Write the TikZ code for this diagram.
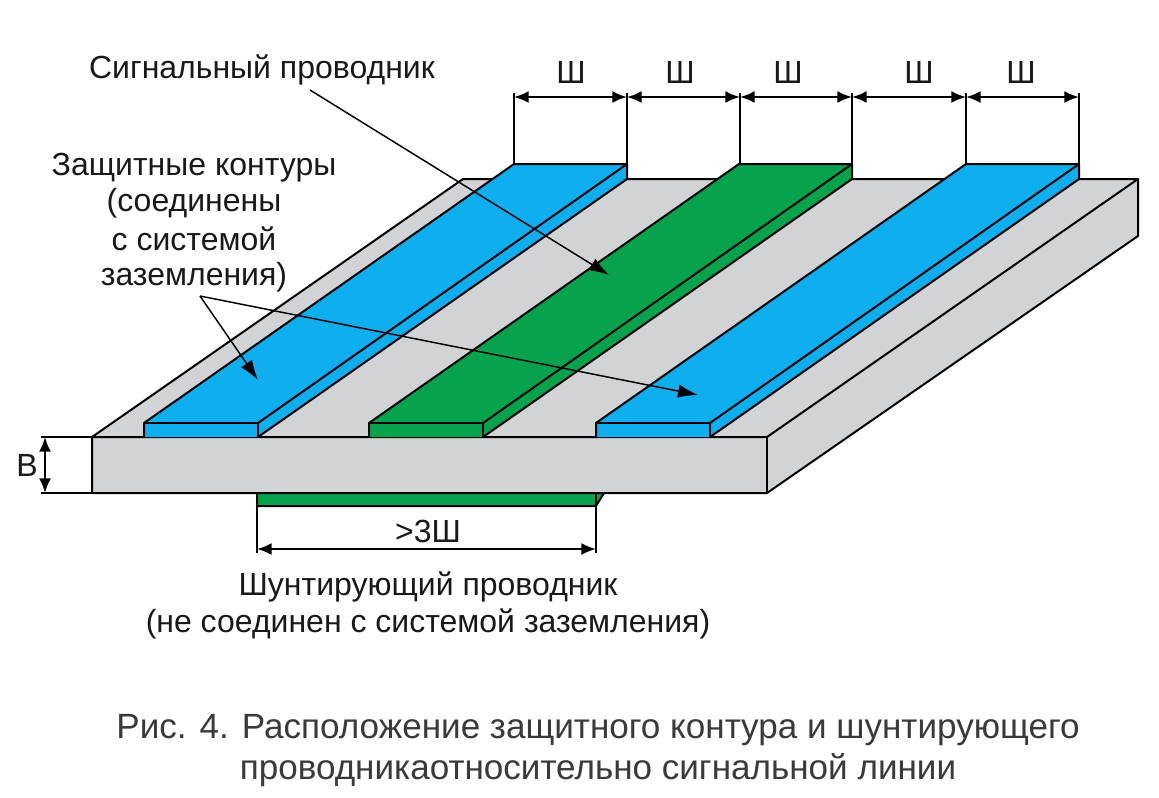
\documentclass[tikz,border=0pt]{standalone}
\usepackage{fontspec}
\setmainfont{Liberation Sans}
\usetikzlibrary{arrows.meta,calc}
\definecolor{cblue}{HTML}{0FAEEF}
\definecolor{cgreen}{HTML}{07A24C}
\definecolor{cgray}{HTML}{D1D3D4}
\definecolor{capgray}{HTML}{3A3A3A}
\tikzset{
  edge/.style={draw=black,line width=1.5pt,line join=round},
  ext/.style={draw=black,line width=1.6pt},
  dim/.style={draw=black,line width=1.6pt,{Latex[length=11pt,width=9pt]}-{Latex[length=11pt,width=9pt]}},
  lead/.style={draw=black,line width=1.1pt,-{Latex[length=15pt,width=10pt]}},
  lbl/.style={font=\fontsize{24}{28}\selectfont,inner sep=0pt,text=black!90},
  captext/.style={font=\fontsize{26.3}{30}\selectfont,inner sep=0pt,text=capgray},
}
\newcommand{\strip}[2]{% left x of the front edge, colour
  \fill[#2] (#1,423) -- ++(370,-259) -- ++(113,0) -- ++(0,15) -- ++(-369,258) -- ++(-114,0) -- cycle;
  \draw[edge] (#1,437) -- (#1,423) -- ++(370,-259) -- ++(113,0) -- ++(0,15) -- ++(-369,258);
  \draw[edge] (#1,423) -- ++(114,0) -- ++(0,14);
  \draw[edge] ($(#1,423)+(114,0)$) -- ++(369,-259);
}
\begin{document}
\begin{tikzpicture}[x=0.75pt,y=-0.75pt]
\useasboundingbox (0,0) rectangle (1159,797);
\fill[white] (0,0) rectangle (1159,797);
% under-side conductor
\fill[cgreen] (257,493) -- (604,493) -- (596,506) -- (257,506) -- cycle;
\draw[edge] (257,493) -- (257,506) -- (596,506) -- (604,493);
\draw[edge] (596,493) -- (596,506);
% board
\fill[cgray] (92,437) -- (463,179) -- (1138,179) -- (1138,236) -- (767,493) -- (92,493) -- cycle;
\draw[edge] (92,437) -- (463,179) -- (1138,179) -- (1138,236) -- (767,493) -- (92,493) -- cycle;
\draw[edge] (92,437) -- (767,437) -- (1138,179);
\draw[edge] (767,437) -- (767,493);
% conductors
\strip{144}{cblue}
\strip{369}{cgreen}
\strip{596}{cblue}
% top dimension chain
\foreach \n/\x in {a/514,b/627,c/740,d/852,e/966,f/1079}{
  \coordinate (\n b) at (\x,164);
  \coordinate (\n t) at (\x,93);
  \coordinate (\n m) at (\x,97);
  \draw[ext] (\n b) -- (\n t);
}
\draw[dim] (am) -- (bm);
\draw[dim] (bm) -- (cm);
\draw[dim] (cm) -- (dm);
\draw[dim] (dm) -- (em);
\draw[dim] (em) -- (fm);
\node[lbl] at (571,72) {Ш};
\node[lbl] at (680,72) {Ш};
\node[lbl] at (788,72) {Ш};
\node[lbl] at (919,72) {Ш};
\node[lbl] at (1021,72) {Ш};
% thickness
\coordinate (b1) at (92,437); \coordinate (b1e) at (41,437);
\coordinate (b2) at (92,493); \coordinate (b2e) at (41,493);
\draw[ext] (b1) -- (b1e);
\draw[ext] (b2) -- (b2e);
\draw[dim] (45,437) -- (45,493);
\node[lbl] at (27,465) {В};
% under conductor width
\coordinate (w1) at (257,506); \coordinate (w1e) at (257,553);
\coordinate (w2) at (596,506); \coordinate (w2e) at (596,553);
\draw[ext] (w1) -- (w1e);
\draw[ext] (w2) -- (w2e);
\draw[dim] (257,549) -- (596,549);
\node[lbl] at (428,531) {>3Ш};
% labels
\node[lbl] (sig) at (262,70) {Сигнальный проводник};
\node[lbl] (g1) at (194,168) {Защитные контуры};
\node[lbl] at (194,203) {(соединены};
\node[lbl] at (194,239) {с системой};
\node[lbl] (g4) at (194,277) {заземления)};
\node[lbl] at (428,587) {Шунтирующий проводник};
\node[lbl] at (428,624) {(не соединен с системой заземления)};
\node[captext] at (598,730) {Рис. 4. Расположение защитного контура и шунтирующего};
\node[captext] at (598,770) {проводникаотносительно сигнальной линии};
% leaders
\coordinate (s0) at (310,90);
\coordinate (s1) at (609,275);
\coordinate (g0) at (200,296);
\coordinate (g2) at (258,380);
\coordinate (g3) at (698,395);
\draw[lead] (s0) -- (s1);
\draw[lead] (g0) -- (g2);
\draw[lead] (g0) -- (g3);
\end{tikzpicture}
\end{document}
